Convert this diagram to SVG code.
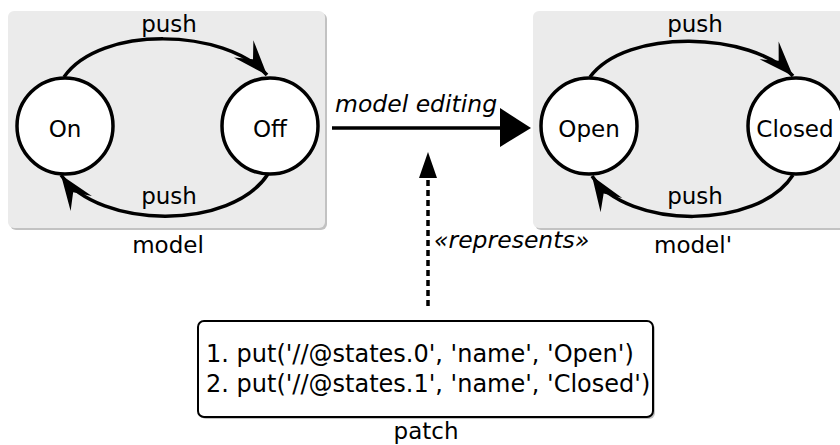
<svg xmlns="http://www.w3.org/2000/svg" width="840" height="445" viewBox="0 0 840 445">
<defs>
<style>
text{font-family:"DejaVu Sans","Liberation Sans",sans-serif;font-size:23px;fill:#000}
.it{font-style:italic;font-size:23.5px}
.code{font-size:24px}
.mid{text-anchor:middle}
.panel{fill:#ebebeb}
.shadow{fill:#9a9a9a;opacity:0.6}
.state{fill:#fff;stroke:#000;stroke-width:3.5}
.edge{fill:none;stroke:#000;stroke-width:3.5}
</style>
<marker id="barb" markerUnits="userSpaceOnUse" markerWidth="44" markerHeight="32" viewBox="-38 -16 42 32" refX="0" refY="0" orient="auto">
<path d="M0,0 L-35,-13 L-21,0 L-35,13 Z" fill="#000"/>
</marker>
</defs>
<g id="model">
<rect class="shadow" x="10" y="13" width="317" height="217" rx="6"/>
<rect class="panel" x="8" y="11" width="317" height="217" rx="6"/>
<text class="mid" x="168" y="253">model</text>
</g>
<g id="model2">
<rect class="shadow" x="535" y="13" width="330" height="217" rx="6"/>
<rect class="panel" x="533" y="11" width="330" height="217" rx="6"/>
<text class="mid" x="693" y="253">model'</text>
</g>
<g id="connectors">
<path class="edge" d="M64,77 C100,25 225,28 267,75" marker-end="url(#barb)"/>
<path class="edge" d="M268,174 C232,230 100,230 61,175" marker-end="url(#barb)"/>
<path class="edge" d="M590,77 C626,28 751,31 793,76" marker-end="url(#barb)"/>
<path class="edge" d="M793,175 C758,230 628,230 592,176" marker-end="url(#barb)"/>
<line class="edge" x1="332" y1="128" x2="505" y2="128"/>
<polygon points="500,108 531,128 500,147" fill="#000"/>
<line class="edge" x1="428" y1="306" x2="428" y2="176" stroke-dasharray="6,4"/>
<polygon points="428,152 419,178 437,178" fill="#000"/>
<text class="it" x="335" y="112">model editing</text>
<text class="it" x="434" y="248">«represents»</text>
<text class="mid" x="169" y="32">push</text>
<text class="mid" x="169" y="204">push</text>
<text class="mid" x="695" y="32">push</text>
<text class="mid" x="695" y="204">push</text>
</g>
<g id="on">
<circle class="state" cx="65" cy="126" r="48"/>
<text class="mid" x="65" y="137">On</text>
</g>
<g id="off">
<circle class="state" cx="270" cy="126" r="48"/>
<text class="mid" x="270" y="137">Off</text>
</g>
<g id="open">
<circle class="state" cx="589" cy="126" r="48"/>
<text class="mid" x="589" y="137">Open</text>
</g>
<g id="closed">
<circle class="state" cx="796" cy="126" r="48"/>
<text class="mid" x="795" y="137">Closed</text>
</g>
<g id="patch">
<rect class="shadow" x="200" y="323" width="455" height="96" rx="6"/>
<rect x="198" y="321" width="455" height="96" rx="6" fill="#fff" stroke="#000" stroke-width="2"/>
<text class="code" x="206" y="362">1. put('//@states.0', 'name', 'Open')</text>
<text class="code" x="206" y="392">2. put('//@states.1', 'name', 'Closed')</text>
<text class="mid" x="426" y="439">patch</text>
</g>
</svg>
